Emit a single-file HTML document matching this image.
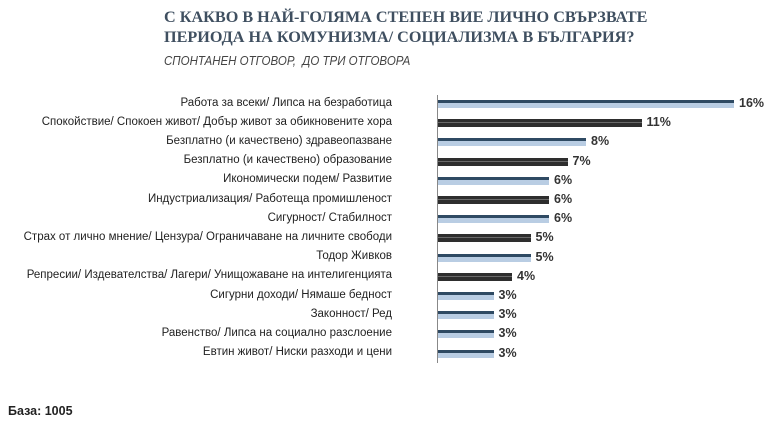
<!DOCTYPE html>
<html><head><meta charset="utf-8"><style>
body{margin:0;width:768px;height:432px;background:#fff;position:relative;overflow:hidden;font-family:"Liberation Sans",sans-serif}
.t{position:absolute;left:164px;top:7px;font-family:"Liberation Serif",serif;font-weight:bold;font-size:16.2px;line-height:20px;color:#3f4f60}
.s{position:absolute;left:164px;top:54px;font-style:italic;font-size:12.5px;color:#444;transform:scaleX(0.92);transform-origin:left}
.l{position:absolute;right:376px;font-size:11.5px;color:#222;white-space:nowrap}
.b{position:absolute;left:438px;height:8px}
.blue{background:linear-gradient(#2f4a63 0,#2f4a63 3px,#b9cde3 3px,#b9cde3 8px)}
.dark{background:linear-gradient(#2e2e2e 0,#2e2e2e 3px,#6a6a6a 3px,#6a6a6a 4px,#2e2e2e 4px)}
.v{position:absolute;font-size:12.5px;font-weight:bold;color:#333}
.ax{position:absolute;left:437px;top:95px;width:1px;height:268px;background:#888}
.f{position:absolute;left:8px;top:404px;font-size:12.5px;font-weight:bold;color:#222}
</style></head><body>
<div class="t">С КАКВО В НАЙ-ГОЛЯМА СТЕПЕН ВИЕ ЛИЧНО СВЪРЗВАТЕ<br>ПЕРИОДА НА КОМУНИЗМА/ СОЦИАЛИЗМА В БЪЛГАРИЯ?</div>
<div class="s">СПОНТАНЕН ОТГОВОР,&nbsp; ДО ТРИ ОТГОВОРА</div>
<div class="ax"></div>
<div id="c"></div>
<div class="f">База: 1005</div>
<script>
var d=[["Работа за всеки/ Липса на безработица",16,1],["Спокойствие/ Спокоен живот/ Добър живот за обикновените хора",11,0],["Безплатно (и качествено) здравеопазване",8,1],["Безплатно (и качествено) образование",7,0],["Икономически подем/ Развитие",6,1],["Индустриализация/ Работеща промишленост",6,0],["Сигурност/ Стабилност",6,1],["Страх от лично мнение/ Цензура/ Ограничаване на личните свободи",5,0],["Тодор  Живков",5,1],["Репресии/ Издевателства/ Лагери/ Унищожаване на интелигенцията",4,0],["Сигурни доходи/ Нямаше бедност",3,1],["Законност/ Ред",3,1],["Равенство/ Липса на социално разслоение",3,1],["Евтин живот/ Ниски разходи и цени",3,1]];
var h="";d.forEach(function(r,i){var y=104+i*19.2;var w=r[1]*18.5;
h+='<div class="l" style="top:'+(y-7.5)+'px">'+r[0]+'</div><div class="b '+(r[2]?'blue':'dark')+'" style="top:'+(y-4)+'px;width:'+w+'px"></div><div class="v" style="top:'+(y-8)+'px;left:'+(438+w+5)+'px">'+r[1]+'%</div>';});
document.getElementById("c").innerHTML=h;
</script>
</body></html>
